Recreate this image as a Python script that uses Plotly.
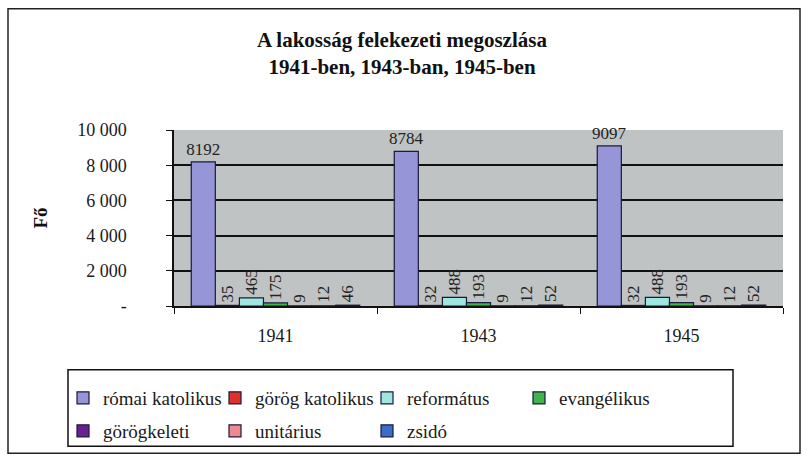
import plotly.graph_objects as go

years = ["1941", "1943", "1945"]
series_names = ["római katolikus", "görög katolikus", "református", "evangélikus",
                "görögkeleti", "unitárius", "zsidó"]
romai_katolikus = [8192, 8784, 9097]
gorog_katolikus = [35, 32, 32]
reformatus = [465, 488, 488]
evangelikus = [175, 193, 193]
gorogkeleti = [9, 9, 9]
unitarius = [12, 12, 12]
zsido = [46, 52, 52]
series_values = [romai_katolikus, gorog_katolikus, reformatus, evangelikus,
                 gorogkeleti, unitarius, zsido]
colors = ["#9595d8", "#e0302a", "#9fe6e0", "#3eb44a", "#6a2090", "#f08890", "#3a6ec8"]

y_tickvals = [0, 2000, 4000, 6000, 8000, 10000]
y_ticktext = ["-", "2 000", "4 000", "6 000", "8 000", "10 000"]

FONT = "Liberation Serif"

fig = go.Figure()
for i, (name, vals, col) in enumerate(zip(series_names, series_values, colors)):
    fig.add_trace(go.Bar(
        name=name, x=years, y=vals,
        marker=dict(color=col, line=dict(color="#1a1a3a", width=1.2)),
        text=[str(v) for v in vals],
        textposition="outside",
        textangle=0 if i == 0 else -90,
        constraintext="none",
        cliponaxis=False,
        textfont=dict(family=FONT, size=17, color="#222222"),
        hoverinfo="skip",
        legend="legend" if i < 4 else "legend2",
    ))

# plot area geometry (px)
L, R, T, B = 174, 783, 130, 307
W, H = 807, 461
pw, ph = R - L, B - T

def px_x(x):
    return (x - L) / pw

def px_y(y):
    return (B - y) / ph

legend_common = dict(
    orientation="h",
    x=px_x(63), xanchor="left", yanchor="middle",
    borderwidth=0, bgcolor="rgba(0,0,0,0)",
    font=dict(family=FONT, size=19, color="#1a1a1a"),
    entrywidth=107,
    itemwidth=30,
    traceorder="normal",
)

fig.update_layout(
    width=W, height=H,
    margin=dict(l=L, r=W - R, t=T, b=H - B, pad=0),
    paper_bgcolor="white",
    plot_bgcolor="#c0c3c3",
    barmode="group",
    bargap=0.17,
    bargroupgap=0,
    font=dict(family=FONT, color="#1a1a1a"),
    title=dict(
        text="<b>A lakosság felekezeti megoszlása<br>1941-ben, 1943-ban, 1945-ben</b>",
        x=402 / W, xanchor="center", y=1 - 46.5 / H, yanchor="middle",
        font=dict(family=FONT, size=21, color="#111111"),
    ),
    showlegend=True,
    legend=dict(legend_common, y=px_y(398)),
    legend2=dict(legend_common, y=px_y(431)),
    xaxis=dict(
        type="category",
        showgrid=False,
        showline=True, linecolor="#111111", linewidth=1.5,
        ticks="outside", tickson="boundaries", ticklen=6, tickcolor="#111111",
        tickfont=dict(family=FONT, size=18, color="#1a1a1a"),
        ticklabelstandoff=13,
    ),
    yaxis=dict(
        range=[0, 10000],
        tickvals=y_tickvals, ticktext=y_ticktext,
        showgrid=True, gridcolor="#111111", gridwidth=2,
        showline=True, linecolor="#111111", linewidth=1.5,
        ticks="outside", ticklen=6, tickcolor="#111111",
        tickfont=dict(family=FONT, size=18, color="#1a1a1a"),
        ticklabelstandoff=36,
        zeroline=False,
        title=dict(text="<b>Fő</b>", font=dict(family=FONT, size=19, color="#111111"), standoff=25),
    ),
    shapes=[
        dict(type="rect", xref="paper", yref="paper",
             x0=px_x(8), x1=px_x(800), y0=px_y(455), y1=px_y(8),
             line=dict(color="#222222", width=1.5), fillcolor="rgba(0,0,0,0)", layer="below"),
        dict(type="rect", xref="paper", yref="paper",
             x0=px_x(68), x1=px_x(733), y0=px_y(448), y1=px_y(371),
             line=dict(color="#111111", width=1.5), fillcolor="rgba(0,0,0,0)", layer="below"),
    ],
)

fig.write_html("out.html", post_script="document.body.style.margin='0';",
               config={"displayModeBar": False})
